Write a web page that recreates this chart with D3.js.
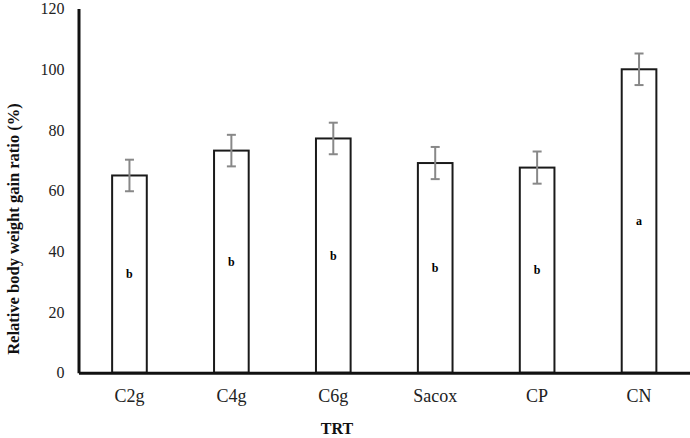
<!DOCTYPE html>
<html><head><meta charset="utf-8">
<script src="https://cdn.jsdelivr.net/npm/d3@7"></script>
<style>body{margin:0;background:#fff}</style>
</head><body>
<svg id="c" width="690" height="438"></svg>
<script>
const categories = ["C2g","C4g","C6g","Sacox","CP","CN"];
const values = [65, 73.2, 77.2, 69.1, 67.6, 100];
const errors = [5.2, 5.2, 5.2, 5.3, 5.3, 5.2];
const letters = ["b","b","b","b","b","a"];
const yTicks = [0,20,40,60,80,100,120];

const svg = d3.select("#c");
const x0 = 78.5, x1 = 690, yBottom = 372.7, yTop = 8.6;
const x = d3.scaleBand().domain(categories).range([x0, x1]).paddingInner(0.66).paddingOuter(0.33);
const y = d3.scaleLinear().domain([0,120]).range([yBottom, yTop]);
const serif = "'Liberation Serif','Times New Roman',serif";

// bars
svg.selectAll("rect.bar").data(categories).enter().append("rect")
  .attr("x", d => x(d)).attr("width", x.bandwidth())
  .attr("y", (d,i) => y(values[i])).attr("height", (d,i) => y(0) - y(values[i]))
  .attr("fill", "#fff").attr("stroke", "#1a1a1a").attr("stroke-width", 2);

// error bars
const eg = svg.selectAll("g.err").data(categories).enter().append("g")
  .attr("stroke", "#888").attr("stroke-width", 2);
eg.append("line").attr("x1", d => x(d)+x.bandwidth()/2).attr("x2", d => x(d)+x.bandwidth()/2)
  .attr("y1", (d,i) => y(values[i]+errors[i])).attr("y2", (d,i) => y(values[i]-errors[i]));
eg.append("line").attr("x1", d => x(d)+x.bandwidth()/2-4.5).attr("x2", d => x(d)+x.bandwidth()/2+4.5)
  .attr("y1", (d,i) => y(values[i]+errors[i])).attr("y2", (d,i) => y(values[i]+errors[i]));
eg.append("line").attr("x1", d => x(d)+x.bandwidth()/2-4.5).attr("x2", d => x(d)+x.bandwidth()/2+4.5)
  .attr("y1", (d,i) => y(values[i]-errors[i])).attr("y2", (d,i) => y(values[i]-errors[i]));

// letters
svg.selectAll("text.let").data(categories).enter().append("text")
  .attr("x", d => x(d)+x.bandwidth()/2).attr("y", (d,i) => y(values[i]/2))
  .attr("dy", "0.35em").attr("text-anchor", "middle")
  .attr("font-family", serif).attr("font-weight", "bold").attr("font-size", 12)
  .text((d,i) => letters[i]);

// y axis
const ya = svg.append("g").attr("transform", `translate(${x0},0)`)
  .call(d3.axisLeft(y).tickValues(yTicks).tickSize(0).tickPadding(14));
ya.select(".domain").attr("stroke", "#111").attr("stroke-width", 3);
ya.selectAll("text").attr("font-family", serif).attr("font-size", 16).attr("fill", "#222");

// x axis
const xa = svg.append("g").attr("transform", `translate(0,${yBottom})`)
  .call(d3.axisBottom(x).tickSize(0).tickPadding(17));
xa.select(".domain").attr("stroke", "#111").attr("stroke-width", 3);
xa.selectAll("text").attr("font-family", serif).attr("font-size", 18).attr("fill", "#222");

// titles
svg.append("text").attr("x", 337).attr("y", 428).attr("dy", "0.35em").attr("text-anchor", "middle")
  .attr("font-family", serif).attr("font-weight", "bold").attr("font-size", 16).attr("fill", "#111").text("TRT");
svg.append("text").attr("transform", "translate(13,229) rotate(-90)").attr("dy", "0.35em")
  .attr("text-anchor", "middle").attr("font-family", serif).attr("font-weight", "bold")
  .attr("font-size", 16.5).attr("fill", "#111").text("Relative body weight gain ratio (%)");
</script>
</body></html>
